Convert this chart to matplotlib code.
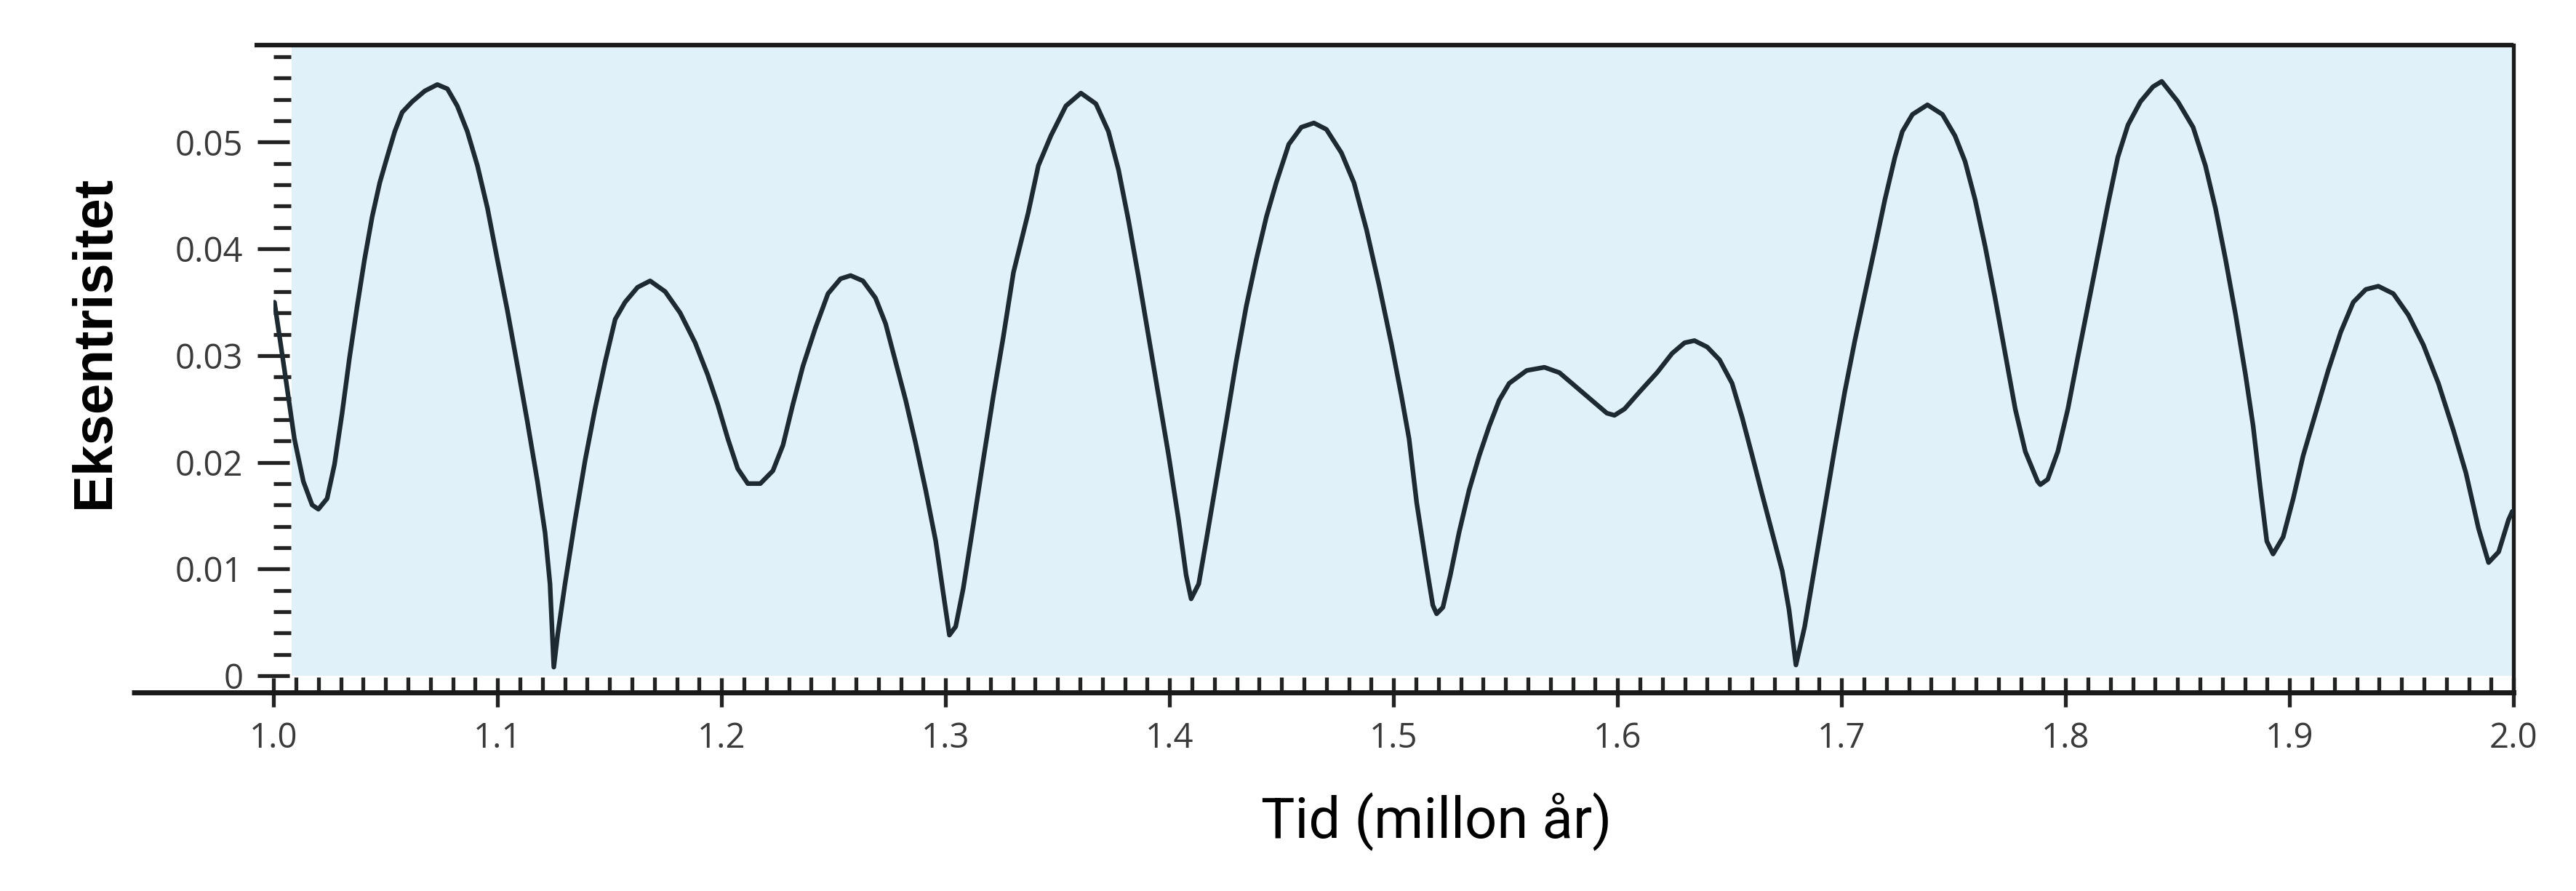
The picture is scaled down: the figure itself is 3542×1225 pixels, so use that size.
import matplotlib
matplotlib.use("Agg")
import matplotlib.pyplot as plt
from matplotlib.ticker import MultipleLocator

# tid (millioner år) og eksentrisitet, lest av figuren
tid = [1.0004, 1.0049, 1.0093, 1.0133, 1.0172, 1.0200, 1.0239, 1.0272, 1.0306, 1.0339,
       1.0373, 1.0406, 1.0440, 1.0474, 1.0507, 1.0541, 1.0574, 1.0619, 1.0675, 1.0731,
       1.0776, 1.0820, 1.0865, 1.0910, 1.0955, 1.0999, 1.1044, 1.1089, 1.1133, 1.1178,
       1.1212, 1.1234, 1.1251, 1.1268, 1.1301, 1.1346, 1.1391, 1.1435, 1.1480, 1.1525,
       1.1569, 1.1625, 1.1681, 1.1748, 1.1815, 1.1882, 1.1938, 1.1983, 1.2028, 1.2072,
       1.2117, 1.2173, 1.2229, 1.2274, 1.2318, 1.2363, 1.2419, 1.2475, 1.2531, 1.2576,
       1.2631, 1.2687, 1.2732, 1.2777, 1.2822, 1.2866, 1.2911, 1.2956, 1.2989, 1.3017,
       1.3045, 1.3079, 1.3124, 1.3168, 1.3213, 1.3258, 1.3303, 1.3369, 1.3414, 1.3470,
       1.3537, 1.3604, 1.3671, 1.3727, 1.3772, 1.3817, 1.3861, 1.3906, 1.3951, 1.3996,
       1.4040, 1.4074, 1.4096, 1.4130, 1.4163, 1.4208, 1.4253, 1.4297, 1.4342, 1.4387,
       1.4432, 1.4476, 1.4532, 1.4588, 1.4644, 1.4700, 1.4767, 1.4823, 1.4879, 1.4935,
       1.4991, 1.5035, 1.5069, 1.5103, 1.5147, 1.5175, 1.5192, 1.5220, 1.5253, 1.5292,
       1.5337, 1.5382, 1.5427, 1.5471, 1.5516, 1.5594, 1.5673, 1.5740, 1.5818, 1.5896,
       1.5952, 1.5986, 1.6031, 1.6098, 1.6176, 1.6243, 1.6299, 1.6343, 1.6400, 1.6455,
       1.6511, 1.6556, 1.6601, 1.6645, 1.6690, 1.6735, 1.6765, 1.6796, 1.6835, 1.6880,
       1.6925, 1.6970, 1.7014, 1.7059, 1.7104, 1.7149, 1.7193, 1.7238, 1.7271, 1.7316,
       1.7383, 1.7450, 1.7506, 1.7551, 1.7596, 1.7641, 1.7685, 1.7730, 1.7775, 1.7820,
       1.7875, 1.7887, 1.7920, 1.7965, 1.8010, 1.8054, 1.8099, 1.8144, 1.8189, 1.8233,
       1.8278, 1.8334, 1.8390, 1.8429, 1.8501, 1.8569, 1.8624, 1.8669, 1.8714, 1.8759,
       1.8803, 1.8837, 1.8870, 1.8898, 1.8926, 1.8971, 1.9016, 1.9060, 1.9116, 1.9172,
       1.9228, 1.9284, 1.9340, 1.9396, 1.9463, 1.9530, 1.9597, 1.9664, 1.9731, 1.9787,
       1.9843, 1.9888, 1.9933, 1.9977, 1.9994]
eksentrisitet = [0.0350, 0.0286, 0.0222, 0.0182, 0.0160, 0.0156, 0.0166, 0.0198, 0.0246, 0.0298,
                 0.0346, 0.0390, 0.0430, 0.0462, 0.0486, 0.0510, 0.0528, 0.0538, 0.0548, 0.0554,
                 0.0550, 0.0534, 0.0510, 0.0478, 0.0438, 0.0390, 0.0342, 0.0290, 0.0238, 0.0182,
                 0.0134, 0.0086, 0.0008, 0.0038, 0.0086, 0.0146, 0.0202, 0.0250, 0.0294, 0.0334,
                 0.0350, 0.0364, 0.0370, 0.0360, 0.0340, 0.0312, 0.0282, 0.0254, 0.0222, 0.0194,
                 0.0180, 0.0180, 0.0192, 0.0216, 0.0254, 0.0290, 0.0326, 0.0358, 0.0372, 0.0375,
                 0.0370, 0.0354, 0.0330, 0.0294, 0.0258, 0.0218, 0.0174, 0.0126, 0.0078, 0.0038,
                 0.0046, 0.0082, 0.0142, 0.0202, 0.0262, 0.0318, 0.0378, 0.0434, 0.0478, 0.0506,
                 0.0534, 0.0546, 0.0536, 0.0510, 0.0474, 0.0426, 0.0374, 0.0318, 0.0262, 0.0206,
                 0.0146, 0.0094, 0.0072, 0.0086, 0.0126, 0.0182, 0.0238, 0.0294, 0.0346, 0.0390,
                 0.0430, 0.0462, 0.0498, 0.0514, 0.0518, 0.0512, 0.0490, 0.0462, 0.0418, 0.0366,
                 0.0310, 0.0262, 0.0222, 0.0162, 0.0102, 0.0066, 0.0058, 0.0064, 0.0094, 0.0134,
                 0.0174, 0.0206, 0.0234, 0.0258, 0.0274, 0.0286, 0.0289, 0.0284, 0.0270, 0.0256,
                 0.0246, 0.0244, 0.0250, 0.0266, 0.0284, 0.0302, 0.0312, 0.0314, 0.0308, 0.0296,
                 0.0274, 0.0242, 0.0206, 0.0170, 0.0134, 0.0098, 0.0062, 0.0010, 0.0046, 0.0102,
                 0.0158, 0.0214, 0.0266, 0.0314, 0.0358, 0.0402, 0.0446, 0.0486, 0.0510, 0.0526,
                 0.0535, 0.0526, 0.0506, 0.0482, 0.0446, 0.0402, 0.0354, 0.0302, 0.0250, 0.0210,
                 0.0182, 0.0179, 0.0184, 0.0210, 0.0250, 0.0298, 0.0346, 0.0394, 0.0442, 0.0486,
                 0.0516, 0.0538, 0.0552, 0.0557, 0.0538, 0.0514, 0.0478, 0.0438, 0.0390, 0.0338,
                 0.0282, 0.0234, 0.0174, 0.0126, 0.0114, 0.0130, 0.0166, 0.0206, 0.0246, 0.0286,
                 0.0322, 0.0350, 0.0362, 0.0365, 0.0358, 0.0338, 0.0310, 0.0274, 0.0230, 0.0190,
                 0.0138, 0.0106, 0.0116, 0.0146, 0.0154]

x_ticks = [1.0, 1.1, 1.2, 1.3, 1.4, 1.5, 1.6, 1.7, 1.8, 1.9, 2.0]
x_labels = ["1.0", "1.1", "1.2", "1.3", "1.4", "1.5", "1.6", "1.7", "1.8", "1.9", "2.0"]
y_ticks = [0, 0.01, 0.02, 0.03, 0.04, 0.05]
y_labels = ["0", "0.01", "0.02", "0.03", "0.04", "0.05"]

plt.rcParams['font.family'] = ['Open Sans', 'DejaVu Sans']

fig = plt.figure(figsize=(35.42, 12.25), dpi=100)
ax = fig.add_axes([0.1062, 0.2229, 0.8696, 0.7265])
y_lo, y_hi = -0.00157, 0.0591
ax.set_xlim(1.0, 2.0)
ax.set_ylim(y_lo, y_hi)

# lyseblå bakgrunn fra null og opp
ax.axvspan(1.008, 2.0, ymin=-y_lo / (y_hi - y_lo), ymax=1, color="#e0f1f9", lw=0, zorder=0)

ax.plot(tid, eksentrisitet, color="#1d2a31", lw=4.6, solid_joinstyle="round",
        solid_capstyle="round", zorder=3)

for side in ["left", "top"]:
    ax.spines[side].set_visible(False)
ax.spines["right"].set_linewidth(3.8)
ax.spines["bottom"].set_linewidth(5)
ax.spines["right"].set_color("#1a1a1a")
ax.spines["bottom"].set_color("#1a1a1a")

# bunnlinjen går litt lenger til venstre, topplinjen også
ax.plot([-0.0633, 1.0], [0, 0], transform=ax.transAxes, color="#1a1a1a", lw=5,
        clip_on=False, solid_capstyle="butt", zorder=4)
ax.plot([-0.0084, 1.0], [1, 1], transform=ax.transAxes, color="#1a1a1a", lw=4.5,
        clip_on=False, solid_capstyle="butt", zorder=4)

ax.set_xticks(x_ticks, x_labels)
ax.set_yticks(y_ticks, y_labels)
ax.xaxis.set_minor_locator(MultipleLocator(0.01))
ax.yaxis.set_minor_locator(MultipleLocator(0.002))

ax.tick_params(axis="x", which="major", direction="inout", length=29, width=3.8,
               pad=14, labelsize=34, labelcolor="#3a3a3a", color="#222222")
ax.tick_params(axis="x", which="minor", direction="in", length=15, width=3.8, color="#222222")
ax.tick_params(axis="y", which="major", direction="inout", length=32, width=3.8,
               pad=14, labelsize=34, labelcolor="#3a3a3a", color="#222222")
ax.tick_params(axis="y", which="minor", direction="in", length=17, width=3.8, color="#222222")

fig.text(0.0423, 0.6163, "Eksentrisitet", rotation=90, rotation_mode="anchor",
         ha="center", va="baseline", fontsize=55, fontweight="bold",
         family=["Liberation Sans", "DejaVu Sans"], color="black")
fig.text(0.5576, 0.0596, "Tid (millon år)", ha="center", va="baseline", fontsize=56,
         family=["Roboto", "DejaVu Sans"], color="black")

fig.savefig("out.png", dpi=100, facecolor="white")
